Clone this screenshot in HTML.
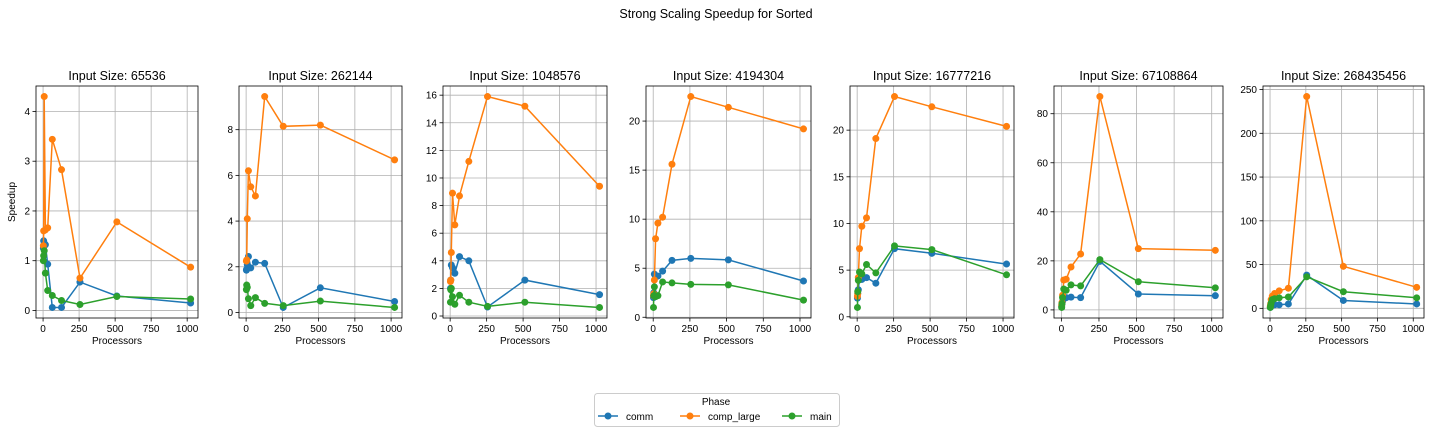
<!DOCTYPE html>
<html><head><meta charset="utf-8"><style>
body{margin:0;background:#fff;font-family:"Liberation Sans","DejaVu Sans",sans-serif;}
svg{display:block}
</style></head><body>
<svg id="c" width="1430" height="434" xmlns="http://www.w3.org/2000/svg">
<text x="716" y="18" text-anchor="middle" font-size="12.5" fill="#000">Strong Scaling Speedup for Sorted</text>
</svg>
<script>
const processors=[2,4,8,16,32,64,128,256,512,1024];
const titles=["65536","262144","1048576","4194304","16777216","67108864","268435456"];
const commData=[
[1.25,1.4,1.35,1.32,0.93,0.06,0.06,0.57,0.29,0.15],
[1.85,1.9,2.1,2.45,1.95,2.2,2.15,0.22,1.08,0.48],
[2.0,2.6,3.7,3.5,3.1,4.3,4.0,0.65,2.6,1.55],
[2.0,2.5,4.4,4.2,4.2,4.7,5.8,6.0,5.85,3.7],
[2.0,2.5,2.9,4.0,4.0,4.2,3.6,7.3,6.8,5.65],
[1.5,2.5,3.5,4.5,5,5.2,5,19.8,6.5,5.8],
[1,2,3,4,4,4,5,38,9,5]];
const compData=[
[1.3,1.6,4.3,1.62,1.66,3.44,2.83,0.65,1.78,0.87],
[2.25,2.3,4.1,6.2,5.5,5.1,9.45,8.15,8.2,6.68],
[2.5,2.6,4.6,8.9,6.6,8.7,11.2,15.9,15.2,9.4],
[2.2,2.4,3.8,8.0,9.6,10.2,15.6,22.5,21.4,19.2],
[2.2,2.5,4.2,7.3,9.7,10.6,19.1,23.6,22.5,20.4],
[2,3,6,12.2,12.5,17.5,22.8,87,25,24.3],
[2,5,10,14,17,20,23,242,48,24]];
const mainData=[
[1.0,1.1,1.2,0.75,0.4,0.3,0.2,0.12,0.28,0.23],
[1.0,1.2,1.1,0.6,0.3,0.65,0.4,0.3,0.5,0.22],
[1.0,1.9,2.0,1.4,0.85,1.5,1.0,0.7,1.0,0.62],
[1.0,2.2,3.1,2.1,2.2,3.6,3.5,3.35,3.3,1.75],
[1.0,2.7,3.9,4.8,4.6,5.6,4.7,7.6,7.2,4.5],
[1,2.5,5,8.5,8,10.2,9.8,20.5,11.5,9],
[1,3,6,10,11,12,13,36,19,12]];
const yTicks=[[0,1,2,3,4],[0,2,4,6,8],[0,2,4,6,8,10,12,14,16],[0,5,10,15,20],[0,5,10,15,20],[0,20,40,60,80],[0,50,100,150,200,250]];
const xTicks=[0,250,500,750,1000];
const seriesNames=["comm","comp_large","main"];
const colors=["#1f77b4","#ff7f0e","#2ca02c"];

const NS="http://www.w3.org/2000/svg";
const svg=document.getElementById('c');
const L=[36,239,443,646,850,1054,1263], R=[198,402,607,811,1014,1223,1424];
const T=86,B=318;
function mk(tag,attrs,parent){const e=document.createElementNS(NS,tag);for(const k in attrs)e.setAttribute(k,attrs[k]);(parent||svg).appendChild(e);return e;}
for(let p=0;p<7;p++){
  const all=commData[p].concat(compData[p],mainData[p]);
  let mn=Math.min(...all),mx=Math.max(...all);const pad=(mx-mn)*0.05;const y0=mn-pad,y1=mx+pad;
  const xmin=2,xmax=1024,xp=(xmax-xmin)*0.05;
  const sx=v=>L[p]+(v-(xmin-xp))/((xmax+xp)-(xmin-xp))*(R[p]-L[p]);
  const sy=v=>B-(v-y0)/(y1-y0)*(B-T);
  const g=mk('g',{});
  
  
  const t=mk('text',{x:(L[p]+R[p])/2,y:T-6,'text-anchor':'middle','font-size':12.5},g);t.textContent='Input Size: '+titles[p];
  
  
  xTicks.forEach(v=>{const x=sx(v);
    mk('line',{x1:x,x2:x,y1:T,y2:B,stroke:'#b0b0b0','stroke-width':0.8},g);
    mk('line',{x1:x,x2:x,y1:B,y2:B+3.5,stroke:'#000','stroke-width':0.8},g);
    const tx=mk('text',{x:x,y:B+14,'text-anchor':'middle','font-size':10},g);tx.textContent=v;
    
    });
  yTicks[p].forEach(v=>{const y=sy(v);
    mk('line',{x1:L[p],x2:R[p],y1:y,y2:y,stroke:'#b0b0b0','stroke-width':0.8},g);
    mk('line',{x1:L[p]-3.5,x2:L[p],y1:y,y2:y,stroke:'#000','stroke-width':0.8},g);
    const ty=mk('text',{x:L[p]-6,y:y+3.5,'text-anchor':'end','font-size':10},g);ty.textContent=v;
    
    });
  [commData,compData,mainData].forEach((d,si)=>{
    const pts=processors.map((x,i)=>sx(x).toFixed(1)+','+sy(d[p][i]).toFixed(1)).join(' ');
    const pl=mk('polyline',{points:pts,fill:'none',stroke:colors[si],'stroke-width':1.5},g);
    
    
    processors.forEach((x,i)=>{const c=mk('circle',{cx:sx(x),cy:sy(d[p][i]),r:3.5,fill:colors[si]},g);
      
      });
  });
  mk('rect',{x:L[p],y:T,width:R[p]-L[p],height:B-T,fill:'none',stroke:'#000','stroke-width':0.8},g);
  const xl=mk('text',{x:(L[p]+R[p])/2,y:B+26,'text-anchor':'middle','font-size':10},g);xl.textContent='Processors';
  
  
}
const yl=mk('text',{x:15,y:202,'text-anchor':'middle','font-size':10,transform:'rotate(-90 15 202)'});yl.textContent='Speedup';


const lg=mk('g',{});


mk('rect',{x:594.5,y:393.5,width:245,height:33,rx:3,fill:'#fff',stroke:'#ccc'},lg);
const lt=mk('text',{x:716,y:405,'text-anchor':'middle','font-size':10},lg);lt.textContent='Phase';
const lx=[598,680,782];
seriesNames.forEach((n,i)=>{
  const e=mk('g',{},lg);
  
  
  mk('line',{x1:lx[i],x2:lx[i]+20,y1:416,y2:416,stroke:colors[i],'stroke-width':1.5},e);
  mk('circle',{cx:lx[i]+10,cy:416,r:3.5,fill:colors[i]},e);
  const tt=mk('text',{x:lx[i]+28,y:420,'font-size':10},e);tt.textContent=n;
});
</script>
</body></html>
